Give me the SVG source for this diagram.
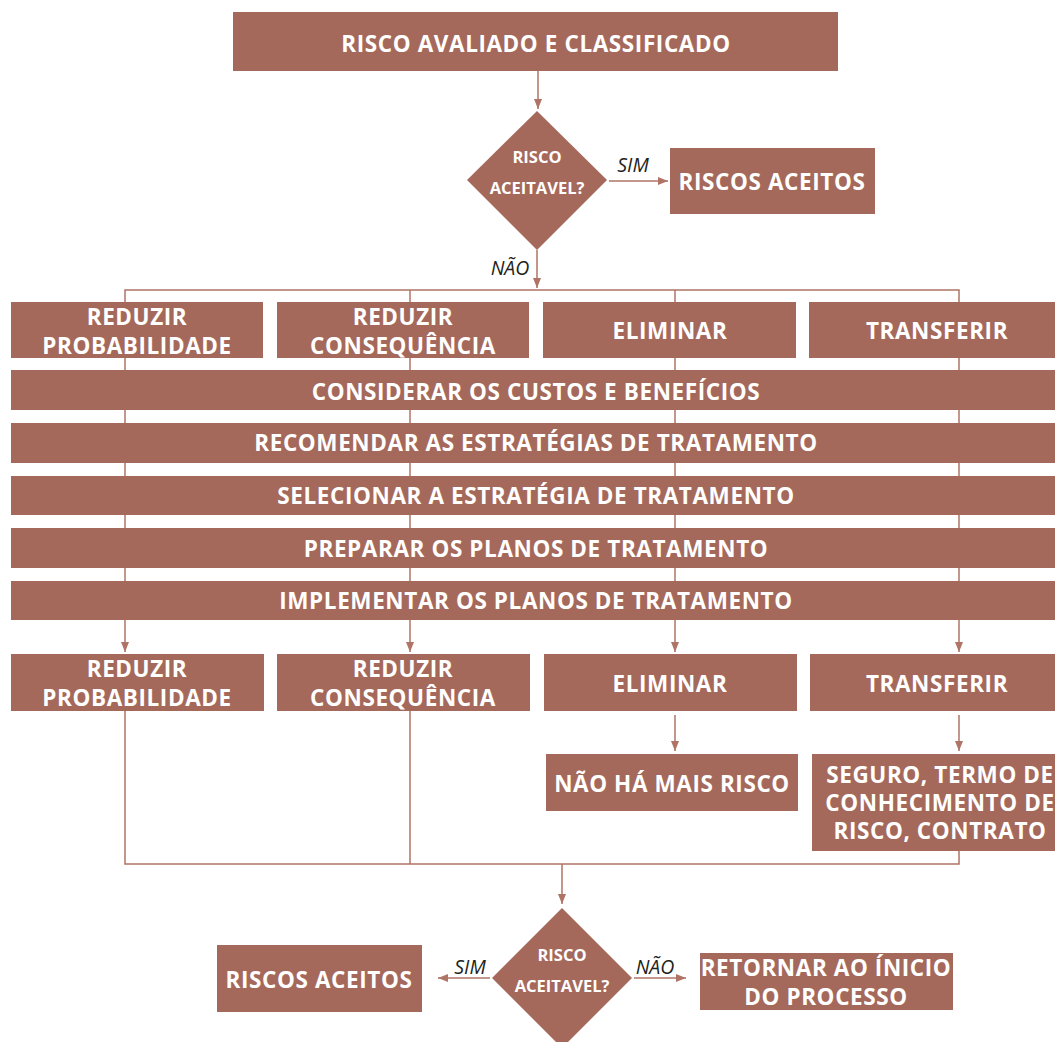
<svg xmlns="http://www.w3.org/2000/svg" width="1055" height="1042" viewBox="0 0 1055 1042">
  <style>
    .box { fill: #A5695B; }
    .t { fill: #ffffff; font-family: "Open Sans", "Liberation Sans", sans-serif; font-weight: 700; font-size: 22.5px; text-anchor: middle; letter-spacing: 0.6px; }
    .ts { fill: #ffffff; font-family: "Open Sans", "Liberation Sans", sans-serif; font-weight: 700; font-size: 16.5px; text-anchor: middle; }
    .lbl { fill: #231f20; font-family: "Open Sans", "Liberation Sans", sans-serif; font-style: italic; font-size: 19.5px; text-anchor: middle; }
    .ln { fill: none; stroke: #B07466; stroke-width: 1.5; }
    .arr { fill: none; stroke: #B07466; stroke-width: 1.5; marker-end: url(#ah); }
  </style>
  <defs>
    <marker id="ah" viewBox="0 0 10 10" refX="10" refY="5" markerWidth="10" markerHeight="10" markerUnits="userSpaceOnUse" orient="auto">
      <path d="M0,1 L10,5 L0,9 Z" fill="#B07466"/>
    </marker>
  </defs>

  <!-- connectors (drawn first so the boxes sit on top) -->
  <g id="connectors">
    <line class="arr" x1="538" y1="71" x2="538" y2="109"/>
    <line class="arr" x1="609" y1="181" x2="668" y2="181"/>
    <line class="arr" x1="537" y1="250" x2="537" y2="288"/>
    <polyline class="ln" points="125,302 125,290 959,290 959,302"/>
    <line class="ln" x1="410" y1="290" x2="410" y2="302"/>
    <line class="ln" x1="675" y1="290" x2="675" y2="302"/>
    <!-- verticals running behind the stacked bars -->
    <line class="ln" x1="125" y1="358" x2="125" y2="620"/>
    <line class="ln" x1="410" y1="358" x2="410" y2="620"/>
    <line class="ln" x1="675" y1="358" x2="675" y2="620"/>
    <line class="ln" x1="959" y1="358" x2="959" y2="620"/>
    <line class="arr" x1="125" y1="620" x2="125" y2="652"/>
    <line class="arr" x1="410" y1="620" x2="410" y2="652"/>
    <line class="arr" x1="675" y1="620" x2="675" y2="652"/>
    <line class="arr" x1="959" y1="620" x2="959" y2="652"/>
    <line class="arr" x1="675" y1="715" x2="675" y2="751"/>
    <line class="arr" x1="959" y1="715" x2="959" y2="751"/>
    <polyline class="ln" points="125,711 125,864 959,864 959,851"/>
    <line class="ln" x1="410" y1="711" x2="410" y2="864"/>
    <line class="arr" x1="562" y1="864" x2="562" y2="904"/>
    <line class="arr" x1="490" y1="978" x2="438" y2="978"/>
    <line class="arr" x1="634" y1="978" x2="686" y2="978"/>
    <text class="lbl" x="633" y="172">SIM</text>
    <text class="lbl" x="510" y="275">NÃO</text>
    <text class="lbl" x="470" y="974">SIM</text>
    <text class="lbl" x="655" y="974">NÃO</text>
  </g>

  <g id="avaliado">
    <rect class="box" x="233" y="12" width="605" height="59"/>
    <text class="t" x="536" y="52">RISCO AVALIADO E CLASSIFICADO</text>
  </g>

  <g id="decisao1">
    <polygon class="box" points="537,111 607,180 537,250 467,180"/>
    <text class="ts" x="537" y="163">RISCO</text>
    <text class="ts" x="537" y="194">ACEITAVEL?</text>
  </g>

  <g id="aceitos1">
    <rect class="box" x="670" y="148" width="205" height="66"/>
    <text class="t" x="772" y="190">RISCOS ACEITOS</text>
  </g>

  <g id="reduzir-prob-1">
    <rect class="box" x="11" y="302" width="252" height="56"/>
    <text class="t" x="137" y="325">REDUZIR</text>
    <text class="t" x="137" y="354">PROBABILIDADE</text>
  </g>
  <g id="reduzir-cons-1">
    <rect class="box" x="277" y="302" width="252" height="56"/>
    <text class="t" x="403" y="325">REDUZIR</text>
    <text class="t" x="403" y="354">CONSEQUÊNCIA</text>
  </g>
  <g id="eliminar-1">
    <rect class="box" x="543" y="302" width="253" height="56"/>
    <text class="t" x="670" y="339">ELIMINAR</text>
  </g>
  <g id="transferir-1">
    <rect class="box" x="809" y="302" width="246" height="56"/>
    <text class="t" x="937" y="339">TRANSFERIR</text>
  </g>

  <g id="custos">
    <rect class="box" x="11" y="370" width="1044" height="40"/>
    <text class="t" x="536" y="400">CONSIDERAR OS CUSTOS E BENEFÍCIOS</text>
  </g>
  <g id="recomendar">
    <rect class="box" x="11" y="423" width="1044" height="40"/>
    <text class="t" x="536" y="451">RECOMENDAR AS ESTRATÉGIAS DE TRATAMENTO</text>
  </g>
  <g id="selecionar">
    <rect class="box" x="11" y="476" width="1044" height="39"/>
    <text class="t" x="536" y="504">SELECIONAR A ESTRATÉGIA DE TRATAMENTO</text>
  </g>
  <g id="preparar">
    <rect class="box" x="11" y="528" width="1044" height="40"/>
    <text class="t" x="536" y="557">PREPARAR OS PLANOS DE TRATAMENTO</text>
  </g>
  <g id="implementar">
    <rect class="box" x="11" y="581" width="1044" height="39"/>
    <text class="t" x="536" y="609">IMPLEMENTAR OS PLANOS DE TRATAMENTO</text>
  </g>

  <g id="reduzir-prob-2">
    <rect class="box" x="11" y="654" width="253" height="57"/>
    <text class="t" x="137" y="677">REDUZIR</text>
    <text class="t" x="137" y="706">PROBABILIDADE</text>
  </g>
  <g id="reduzir-cons-2">
    <rect class="box" x="277" y="654" width="253" height="57"/>
    <text class="t" x="403" y="677">REDUZIR</text>
    <text class="t" x="403" y="706">CONSEQUÊNCIA</text>
  </g>
  <g id="eliminar-2">
    <rect class="box" x="544" y="654" width="253" height="57"/>
    <text class="t" x="670" y="692">ELIMINAR</text>
  </g>
  <g id="transferir-2">
    <rect class="box" x="810" y="654" width="245" height="57"/>
    <text class="t" x="937" y="692">TRANSFERIR</text>
  </g>

  <g id="sem-risco">
    <rect class="box" x="546" y="754" width="252" height="57"/>
    <text class="t" x="672" y="792">NÃO HÁ MAIS RISCO</text>
  </g>
  <g id="seguro">
    <rect class="box" x="812" y="754" width="243" height="97"/>
    <text class="t" x="940" y="783">SEGURO, TERMO DE</text>
    <text class="t" x="940" y="811">CONHECIMENTO DE</text>
    <text class="t" x="940" y="839">RISCO, CONTRATO</text>
  </g>

  <g id="decisao2">
    <polygon class="box" points="562,908 632,978 562,1048 492,978"/>
    <text class="ts" x="562" y="961">RISCO</text>
    <text class="ts" x="562" y="992">ACEITAVEL?</text>
  </g>

  <g id="aceitos2">
    <rect class="box" x="217" y="945" width="205" height="67"/>
    <text class="t" x="319" y="988">RISCOS ACEITOS</text>
  </g>

  <g id="retornar">
    <rect class="box" x="700" y="953" width="253" height="57"/>
    <text class="t" x="826" y="976">RETORNAR AO ÍNICIO</text>
    <text class="t" x="826" y="1005">DO PROCESSO</text>
  </g>
</svg>
